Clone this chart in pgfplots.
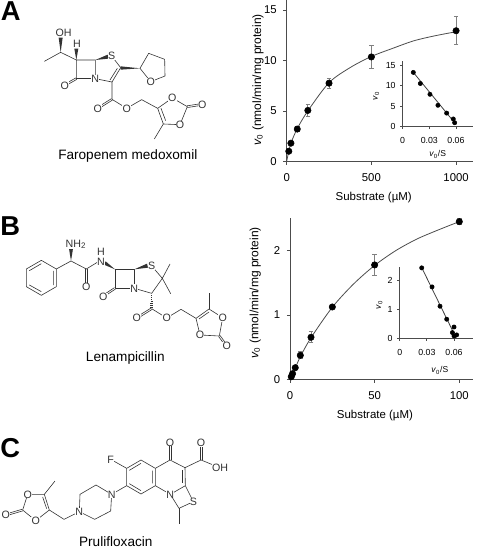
\documentclass[border=0pt]{standalone}
\usepackage{fontspec}
\setmainfont{Liberation Sans}
\usepackage{pgfplots}
\pgfplotsset{compat=1.18}

% 1 px of the reference = 0.75pt
\newcommand{\atom}[3]{\node[fill=white,inner sep=0.2pt,font=\fontsize{8}{9}\selectfont] at (#1,#2) {#3};}
% C=O bond: two parallel lines, in the 1/3 px units of the molecule scopes
\newcommand{\dbl}[4]{%
  \pgfmathsetmacro{\dd}{veclen(#3-#1,#4-#2)}%
  \pgfmathsetmacro{\ox}{-(#4-#2)/\dd*2.6}%
  \pgfmathsetmacro{\oy}{(#3-#1)/\dd*2.6}%
  \draw ({#1+\ox},{#2+\oy})--({#3+\ox},{#4+\oy}) ({#1-\ox},{#2-\oy})--({#3-\ox},{#4-\oy});}
\definecolor{axisgray}{gray}{0.3}

\pgfplotsset{
  panel/.style={
    scale only axis,
    axis x line*=bottom, axis y line*=left,
    axis line style={axisgray,line width=0.6pt},
    tick style={axisgray,line width=0.6pt},
    tick align=outside,
    xmin=0, ymin=0,
    clip=false,
    scaled x ticks=false,
    /pgf/number format/assume math mode=true,
    /pgf/number format/1000 sep={},
  },
  main/.style={
    panel,
    major tick length=2.4pt,
    tick label style={font=\fontsize{8.5}{10}\selectfont},
    xticklabel style={yshift=-3.2pt},
    yticklabel style={xshift=-1.5pt},
    xlabel style={font=\fontsize{8.6}{10}\selectfont,anchor=center},
    ylabel style={font=\fontsize{9}{10}\selectfont,anchor=center},
  },
  inset/.style={
    panel,
    major tick length=1.8pt,
    tick label style={font=\fontsize{6.6}{8}\selectfont},
    xticklabel style={yshift=-3pt},
    xlabel style={font=\fontsize{6.4}{8}\selectfont,anchor=center},
    ylabel style={font=\fontsize{6.4}{8}\selectfont,anchor=center},
    xtick={0,0.03,0.06},
    xticklabels={0,0.03,0.06},
  },
  curve/.style={no marks,smooth,color=black!70,line width=0.6pt},
  dots/.style={only marks,mark=*,mark size=2.4pt,color=black},
  bars/.style={error bars/.cd,y dir=both,y explicit,
    error bar style={color=black!50,line width=0.7pt},
    error mark options={rotate=90,mark size=1.7pt,color=black!50,line width=0.6pt}},
}

\begin{document}
\begin{tikzpicture}
\useasboundingbox (0,0) rectangle (357.75pt,-411pt);

% panel letters and names
\begin{scope}[x=0.75pt,y=-0.75pt]
\node[anchor=base west,inner sep=0pt,font=\fontsize{20.5}{22}\bfseries] at (0.5,20.7) {A};
\node[anchor=base west,inner sep=0pt,font=\fontsize{20.5}{22}\bfseries] at (0,236) {B};
\node[anchor=base west,inner sep=0pt,font=\fontsize{20.5}{22}\bfseries] at (0,457.5) {C};
\node[anchor=base,inner sep=0pt,font=\fontsize{10.2}{12}\selectfont] at (127.8,160) {Faropenem medoxomil};
\node[anchor=base,inner sep=0pt,font=\fontsize{10.2}{12}\selectfont] at (125.3,361.7) {Lenampicillin};
\node[anchor=base,inner sep=0pt,font=\fontsize{10.2}{12}\selectfont] at (115.8,546.7) {Prulifloxacin};
\end{scope}

% faropenem medoxomil
\begin{scope}[x=0.25pt,y=-0.25pt,line width=0.45pt,color=black!80,line join=round]
\draw (133,184)--(182,157)--(229,180)--(286,180)--(286,236)--(229,236)--(229,180);
\draw (286,236)--(229,236);
\dbl{229}{236}{195}{255}
\fill (182,157)--(176,113)--(188,113)--cycle;
\fill (229,180)--(223,146)--(235,146)--cycle;
\fill (286,180)--(323,164)--(325,176)--cycle;
\fill (420,205)--(362,199)--(362,209)--cycle;
\draw (335,168)--(362,203) (286,236)--(336,246)--(336,298);
\draw (362,203)--(336,246) (352,205)--(330,240);
\draw (420,205)--(446,160)--(494,178)--(495,228)--(452,245)--cycle;
\dbl{336}{298}{293}{325}
\draw (336,298)--(380,325)--(425,299)--(473,325);
\draw (473,325)--(517,294)--(562,320)--(540,374)--(490,372)--cycle;
\draw (483,325)--(497,362);
\dbl{562}{320}{607}{313}
\draw (490,372)--(463,417);
\atom{191}{99}{OH}\atom{231}{131}{H}\atom{335}{168}{S}\atom{286}{236}{N}
\atom{194}{256}{O}\atom{452}{245}{O}\atom{293}{325}{O}\atom{380}{325}{O}
\atom{517}{294}{O}\atom{540}{374}{O}\atom{607}{313}{O}
\end{scope}

% lenampicillin
\begin{scope}[shift={(0,-142.5pt)},x=0.25pt,y=-0.25pt,line width=0.45pt,color=black!80,line join=round]
\draw (124,211)--(169,237)--(169,290)--(124,316)--(79,290)--(79,237)--cycle;
\draw (88,242)--(124,221) (160,243)--(160,285) (124,305)--(88,285);
\draw (169,237)--(213,213)--(259,237)--(295,215);
\fill (213,213)--(207,176)--(219,176)--cycle;
\dbl{259}{237}{259}{280}
\fill (345,238)--(312,224)--(317,214)--cycle;
\draw (345,238)--(403,238)--(403,295)--(345,295)--cycle;
\dbl{345}{295}{310}{318}
\fill (403,238)--(441,221)--(444,233)--cycle;
\draw (455,228)--(487,265)--(510,222) (487,265)--(512,311) (487,265)--(455,310)--(403,295);
\foreach \k in {0,...,6}{\draw ({455-1-0.7*\k},{315+6*\k})--({455+1+0.7*\k},{315+6*\k});}
\dbl{455}{356}{410}{384}
\draw (455,356)--(500,384)--(543,358)--(588,385);
\draw (588,385)--(627,357)--(668,383)--(658,438)--(600,435)--cycle;
\draw (597,387)--(627,366);
\draw (627,357)--(627,308);
\dbl{658}{438}{680}{468}
\atom{228}{163}{NH\textsubscript{2}}\atom{259}{291}{O}\atom{303}{184}{H}\atom{303}{216}{N}
\atom{403}{295}{N}\atom{310}{321}{O}\atom{455}{228}{S}\atom{410}{384}{O}\atom{500}{384}{O}
\atom{668}{383}{O}\atom{600}{435}{O}\atom{680}{468}{O}
\end{scope}

% prulifloxacin
\begin{scope}[shift={(0,-300pt)},x=0.25pt,y=-0.25pt,line width=0.45pt,color=black!80,line join=round]
\draw (380,205)--(423,180)--(466,205)--(466,257)--(423,282)--(380,257)--cycle;
\draw (388,211)--(423,190) (458,212)--(458,250) (388,251)--(423,272);
\draw (380,205)--(332,178);
\draw (466,205)--(510,180)--(555,203)--(556,257)--(511,283)--(466,257);
\draw (548,210)--(548,250);
\dbl{510}{180}{510}{127}
\draw (555,203)--(603,180)--(660,203);
\dbl{603}{180}{603}{128}
\draw (556,257)--(580,305)--(537,325)--(511,283);
\draw (537,325)--(537,372);
\draw (380,257)--(335,283);
\draw (335,283)--(288,255)--(240,283)--(238,335)--(284,358)--(332,333)--cycle;
\draw (238,335)--(192,358)--(148,330);
\draw (148,330)--(133,283)--(83,283)--(68,330)--(107,362)--cycle;
\draw (140,326)--(128,291);
\draw (133,283)--(165,243);
\dbl{68}{330}{17}{345}
\atom{332}{178}{F}\atom{510}{127}{O}\atom{603}{128}{O}\atom{660}{203}{OH}
\atom{511}{283}{N}\atom{580}{305}{S}\atom{335}{283}{N}\atom{238}{335}{N}
\atom{83}{283}{O}\atom{107}{362}{O}\atom{17}{345}{O}
\end{scope}

% A, main
\begin{axis}[main,
  at={(215pt,-121pt)},anchor=south west,
  width=139.5pt,height=121pt,
  xmax=1098,ymax=16,
  xtick={0,500,1000},ytick={0,5,10,15},
  xlabel={Substrate (µM)},
  ylabel={\textit{v}\textsubscript{0} (nmol/min/mg protein)},
  xlabel style={at={(axis description cs:0.468,-0.2275)}},
  ylabel style={at={(axis description cs:-0.154,0.504)}},
]
\addplot[curve] coordinates {(0,0) (12.5,1.0) (25,1.8) (62.5,3.25) (125,5.0) (250,7.8) (375,9.3) (500,10.4) (625,11.2) (750,11.95) (875,12.45) (1000,12.85)};
\addplot[dots,bars] coordinates {
  (12.5,1.0) +- (0,0.1)
  (25,1.8) +- (0,0.15)
  (62.5,3.2) +- (0,0.25)
  (125,5.05) +- (0,0.55)
  (250,7.75) +- (0,0.48)
  (500,10.35) +- (0,1.1)
  (1000,12.95) +- (0,1.4)
};
\end{axis}

% A, inset
\begin{axis}[inset,
  at={(302pt,-95pt)},anchor=south west,
  width=52.5pt,height=49.5pt,
  xmax=0.0788,ymax=16.06,
  ytick={0,5,10,15},
  xlabel={\textit{v}\textsubscript{0}/S},
  ylabel={\textit{v}\textsubscript{0}},
  xlabel style={at={(axis description cs:0.5,-0.42)}},
  ylabel style={at={(axis description cs:-0.38,0.46)}},
]
\addplot[color=black!75,line width=0.6pt,no marks] coordinates {(0.0105,13.6) (0.0602,0.5)};
\addplot[only marks,mark=*,mark size=1.6pt,color=black] coordinates {
  (0.012,13.2) (0.0199,10.5) (0.0307,7.87) (0.0397,5.2) (0.0495,3.3) (0.057,1.87) (0.0585,0.97)
};
\end{axis}

% B, main
\begin{axis}[main,
  at={(217.5pt,-284.5pt)},anchor=south west,
  width=137pt,height=120.7pt,
  xmax=107.9,ymax=2.5,
  xtick={0,50,100},ytick={0,1,2},
  xlabel={Substrate (µM)},
  ylabel={\textit{v}\textsubscript{0} (nmol/min/mg protein)},
  xlabel style={at={(axis description cs:0.465,-0.228)}},
  ylabel style={at={(axis description cs:-0.19,0.536)}},
]
\addplot[curve] coordinates {(0,0) (1.5,0.09) (3,0.17) (6.25,0.36) (12.5,0.65) (25,1.12) (37.5,1.48) (50,1.77) (62.5,2.0) (75,2.18) (87.5,2.32) (100,2.45)};
\addplot[dots,bars] coordinates {
  (0.75,0.04) +- (0,0.01)
  (1.5,0.088) +- (0,0.01)
  (3.1,0.181) +- (0,0.02)
  (6.1,0.373) +- (0,0.055)
  (12.4,0.653) +- (0,0.085)
  (25,1.124) +- (0,0.02)
  (50,1.777) +- (0,0.16)
  (100,2.45) +- (0,0.05)
};
\end{axis}

% B, inset
\begin{axis}[inset,
  at={(299.8pt,-253.7pt)},anchor=south west,
  width=54.7pt,height=53.8pt,
  xmax=0.0806,ymax=2.486,
  ytick={0,1,2},
  xlabel={\textit{v}\textsubscript{0}/S},
  ylabel={\textit{v}\textsubscript{0}},
  xlabel style={at={(axis description cs:0.55,-0.45)}},
  ylabel style={at={(axis description cs:-0.28,0.46)}},
]
\addplot[color=black!75,line width=0.6pt,no marks] coordinates {(0.0235,2.5) (0.0625,0)};
\addplot[only marks,mark=*,mark size=1.6pt,color=black] coordinates {
  (0.0243,2.44) (0.0357,1.78) (0.0445,1.11) (0.0519,0.66) (0.06,0.39) (0.0582,0.197) (0.0629,0.116) (0.06,0.08)
};
\end{axis}
\end{tikzpicture}
\end{document}
